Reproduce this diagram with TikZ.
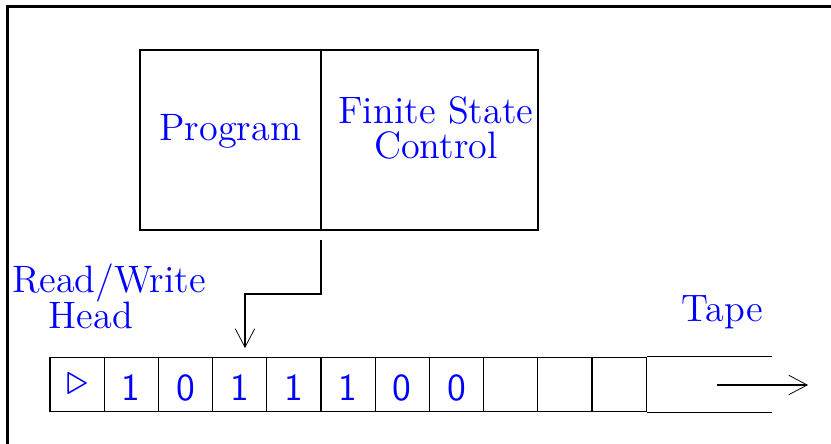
\documentclass[tikz,border=0pt]{standalone}
\usetikzlibrary{arrows.meta,fit,calc}
\begin{document}
\begin{tikzpicture}[x=0.39pt,y=-0.39pt,
  unit/.style={draw, line width=0.5pt, inner sep=0pt},
  cell/.style={draw, line width=0.5pt, inner sep=0pt,
    minimum width=21.14pt, minimum height=21.26pt},
  lbl/.style={text=blue, font=\fontsize{14.9pt}{18pt}\selectfont, inner sep=0pt},
  twoline/.style={lbl, align=center, font=\fontsize{14.9pt}{14pt}\selectfont},
  digit/.style={text=blue, font=\sffamily\fontsize{14.9pt}{18pt}\selectfont, inner sep=0pt},
  barb/.style={line width=0.5pt,
    -{Straight Barb[length=7.2pt,width=7.6pt,line width=0.3pt]}}]
\useasboundingbox (0,0) rectangle (831,444);

% outer frame, running past the right and bottom edges
\begin{scope}
  \clip (0,0) rectangle (831,444);
  \draw[line width=1.2pt] (7.5,6.5) rectangle (900,520);
\end{scope}

% program / finite state control
\coordinate (pA) at (140,50);
\coordinate (pB) at (321,230);
\coordinate (pC) at (538,50);
\node[unit, fit=(pA)(pB)] (program) {};
\node[unit, fit=(pB)(pC)] (control) {};
\node[lbl, anchor=base] (programtext) at (230.5,141) {Program};
\node[twoline] (controltext) at (436,128) {Finite State\\Control};

% tape cells
\foreach \k in {0,...,10}
  \node[cell] (c\k) at ({50+54.2*(\k+0.5)},384.6) {};
\coordinate (tapeend) at (772,384.6);
\draw[line width=0.5pt] (c10.north east) -- (c10.north east -| tapeend);
\draw[line width=0.5pt] (c10.south east) -- (c10.south east -| tapeend);

% cell contents
\node[text=blue, font=\fontsize{17pt}{20pt}\selectfont, inner sep=0pt] (start) at (c0) {$\triangleright$};
\foreach \k/\d in {1/1,2/0,3/1,4/1,5/1,6/0,7/0}
  \node[digit, anchor=base] (d\k) at ($(c\k.center)+(0,16)$) {\d};

% read/write head connector
\coordinate (headstart) at (321,240);
\coordinate (headtip) at (245,348);
\draw[barb] (headstart) |- ($(headstart)!0.5!(headtip)$) -| (headtip);

% tape direction
\coordinate (dirA) at (717,385);
\coordinate (dirB) at (808,385);
\draw[barb] (dirA) -- (dirB);

% labels
\node[lbl, anchor=base] (rw) at (109,293) {Read/Write};
\node[lbl, anchor=base] (head) at (91,329) {Head};
\node[lbl, anchor=base] (tape) at (722.5,322) {Tape};
\end{tikzpicture}
\end{document}
